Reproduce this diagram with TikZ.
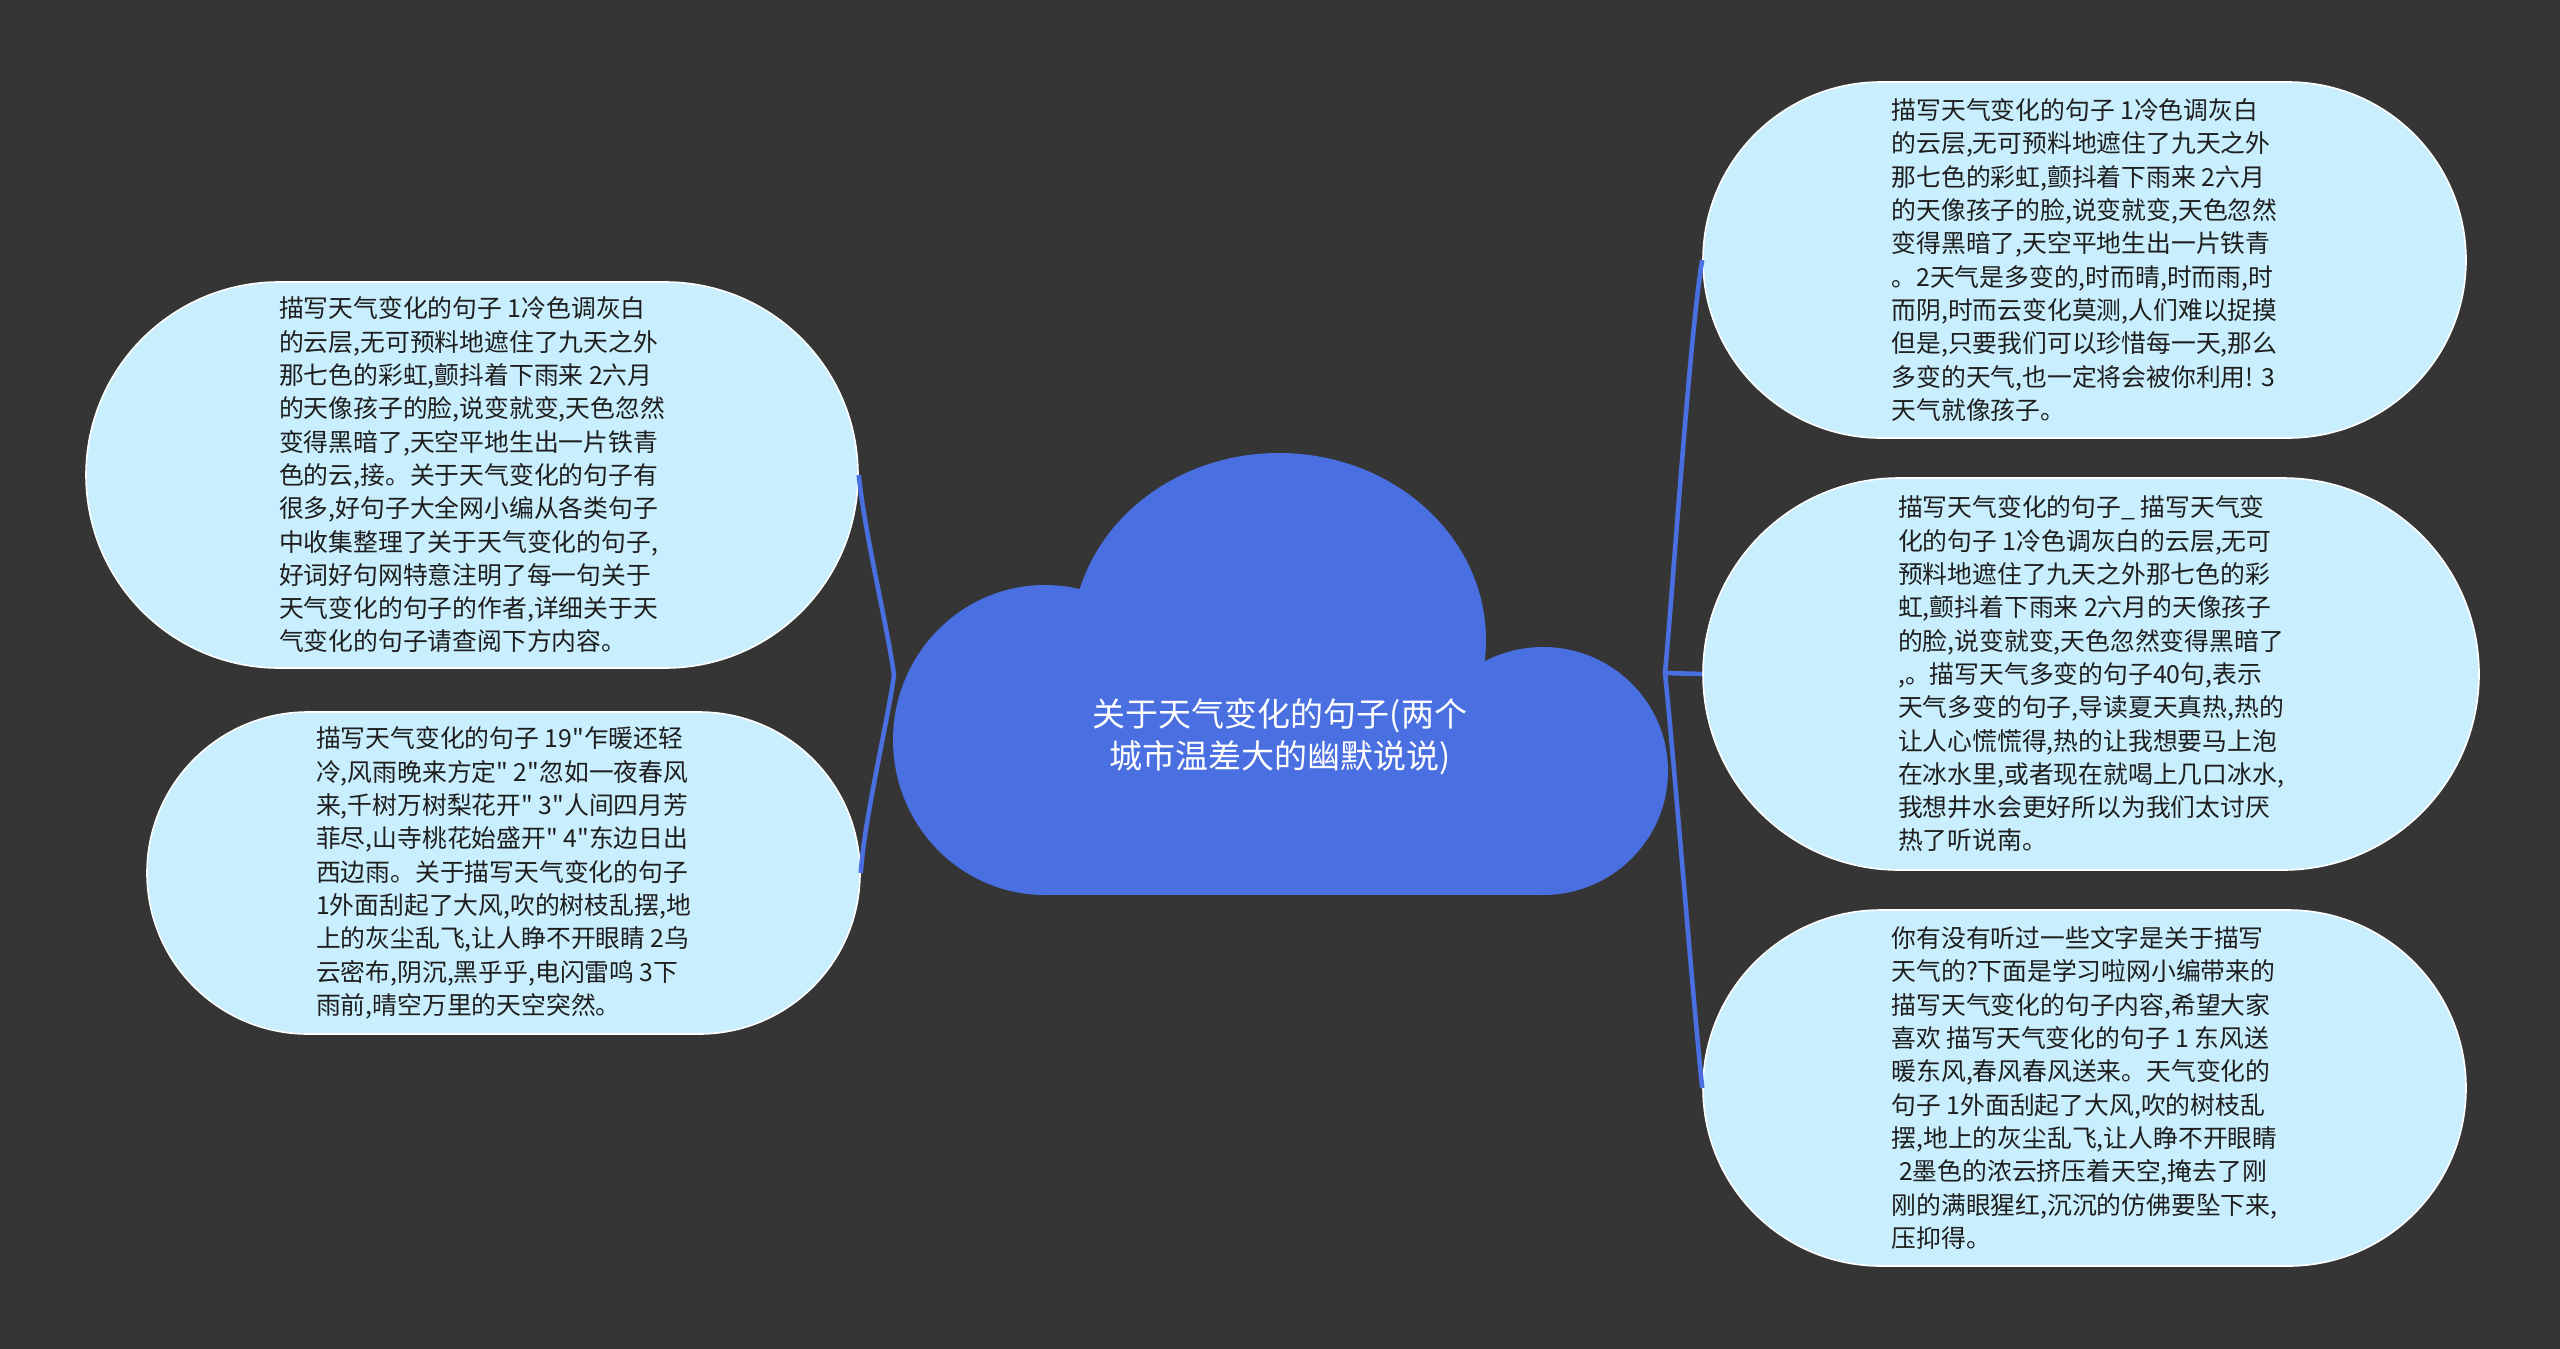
\documentclass[tikz,border=0pt]{standalone}
\usepackage{fontspec}
\newfontfamily\cjk{Noto Sans CJK SC}
\usetikzlibrary{shapes.misc}
\definecolor{bgc}{HTML}{363536}
\definecolor{cloudc}{HTML}{4A6FE0}
\definecolor{bubc}{HTML}{C9EEFD}
\definecolor{txtc}{HTML}{1E1E1E}
\tikzset{
  bubble/.style={rounded rectangle, fill=bubc, draw=white, line width=0.8pt,
    inner sep=0pt, align=left, text=txtc,
    font=\cjk\fontsize{12.4pt}{16.65pt}\selectfont},
  conn/.style={draw=cloudc, line width=2.3pt},
  title/.style={align=center, text=white, inner sep=0pt,
    font=\cjk\fontsize{16.5pt}{21.2pt}\selectfont}
}
\begin{document}
\begin{tikzpicture}[x=0.5pt,y=-0.5pt]
\fill[bgc] (0,0) rectangle (2560,1349);
\useasboundingbox (0,0) rectangle (2560,1349);
% cloud
\fill[cloudc] (1279,640) ellipse[x radius=207, y radius=187];
\fill[cloudc] (1045,740) ellipse[x radius=152, y radius=155];
\fill[cloudc] (1543,771) ellipse[x radius=125, y radius=124];
\fill[cloudc] (1045,740) rectangle (1543,895);
\node[title] (center) at (1280,737) {关于天气变化的句子(两个\\城市温差大的幽默说说)};
% bubbles
\node[bubble, minimum width=386pt, minimum height=193pt] (L1) at (472,475) {描写天气变化的句子 1冷色调灰白\\
的云层,无可预料地遮住了九天之外\\
那七色的彩虹,颤抖着下雨来 2六月\\
的天像孩子的脸,说变就变,天色忽然\\
变得黑暗了,天空平地生出一片铁青\\
色的云,接。关于天气变化的句子有\\
很多,好句子大全网小编从各类句子\\
中收集整理了关于天气变化的句子,\\
好词好句网特意注明了每一句关于\\
天气变化的句子的作者,详细关于天\\
气变化的句子请查阅下方内容。};
\node[bubble, minimum width=356.5pt, minimum height=161pt] (L2) at (503.5,873) {描写天气变化的句子 19"乍暖还轻\\
冷,风雨晚来方定" 2"忽如一夜春风\\
来,千树万树梨花开" 3"人间四月芳\\
菲尽,山寺桃花始盛开" 4"东边日出\\
西边雨。关于描写天气变化的句子\\
1外面刮起了大风,吹的树枝乱摆,地\\
上的灰尘乱飞,让人睁不开眼睛 2乌\\
云密布,阴沉,黑乎乎,电闪雷鸣 3下\\
雨前,晴空万里的天空突然。};
\node[bubble, minimum width=381.5pt, minimum height=178pt] (R1) at (2084.5,260) {描写天气变化的句子 1冷色调灰白\\
的云层,无可预料地遮住了九天之外\\
那七色的彩虹,颤抖着下雨来 2六月\\
的天像孩子的脸,说变就变,天色忽然\\
变得黑暗了,天空平地生出一片铁青\\
。2天气是多变的,时而晴,时而雨,时\\
而阴,时而云变化莫测,人们难以捉摸\\
但是,只要我们可以珍惜每一天,那么\\
多变的天气,也一定将会被你利用! 3\\
天气就像孩子。};
\node[bubble, minimum width=388pt, minimum height=196pt] (R2) at (2091,674) {描写天气变化的句子\_ 描写天气变\\
化的句子 1冷色调灰白的云层,无可\\
预料地遮住了九天之外那七色的彩\\
虹,颤抖着下雨来 2六月的天像孩子\\
的脸,说变就变,天色忽然变得黑暗了\\
,。描写天气多变的句子40句,表示\\
天气多变的句子,导读夏天真热,热的\\
让人心慌慌得,热的让我想要马上泡\\
在冰水里,或者现在就喝上几口冰水,\\
我想井水会更好所以为我们太讨厌\\
热了听说南。};
\node[bubble, minimum width=381.5pt, minimum height=178pt] (R3) at (2084.5,1088) {你有没有听过一些文字是关于描写\\
天气的?下面是学习啦网小编带来的\\
描写天气变化的句子内容,希望大家\\
喜欢 描写天气变化的句子 1 东风送\\
暖东风,春风春风送来。天气变化的\\
句子 1外面刮起了大风,吹的树枝乱\\
摆,地上的灰尘乱飞,让人睁不开眼睛\\
\hspace*{0.3em}2墨色的浓云挤压着天空,掩去了刚\\
刚的满眼猩红,沉沉的仿佛要坠下来,\\
压抑得。};
% connectors
\coordinate (jl) at (894,675);
\coordinate (jr) at (1665,673);
\draw[conn] (jl) .. controls (888,630) and (864,530) .. (L1.east);
\draw[conn] (jl) .. controls (888,720) and (864,820) .. (L2.east);
\draw[conn] (jr) .. controls (1672,600) and (1690,330) .. (R1.west);
\draw[conn] (jr) -- (R2.west);
\draw[conn] (jr) .. controls (1674,760) and (1693,1000) .. (R3.west);
\end{tikzpicture}
\end{document}
